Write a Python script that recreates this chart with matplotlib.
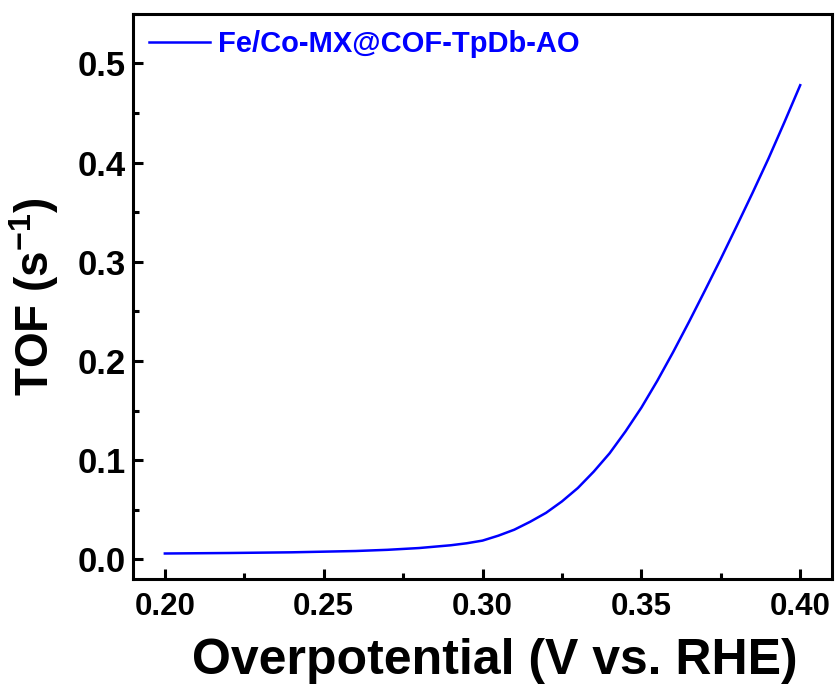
import matplotlib
matplotlib.use("Agg")
import matplotlib.pyplot as plt
from matplotlib.ticker import MultipleLocator

# overpotential (V vs. RHE) and turnover frequency (s^-1)
eta = [0.200, 0.220, 0.240, 0.260, 0.270, 0.280, 0.290, 0.295, 0.300, 0.305,
       0.310, 0.315, 0.320, 0.325, 0.330, 0.335, 0.340, 0.345, 0.350, 0.355,
       0.360, 0.365, 0.370, 0.375, 0.380, 0.385, 0.390, 0.395, 0.400]
tof = [0.0060, 0.0065, 0.0072, 0.0085, 0.0097, 0.0115, 0.0143, 0.0163, 0.0190, 0.0240,
       0.0300, 0.0380, 0.0470, 0.0585, 0.0720, 0.0885, 0.1070, 0.1290, 0.1530, 0.1800,
       0.2090, 0.2395, 0.2710, 0.3030, 0.3360, 0.3695, 0.4040, 0.4405, 0.4780]
label = "Fe/Co-MX@COF-TpDb-AO"

plt.rcParams['font.family'] = ['Liberation Sans', 'DejaVu Sans']
plt.rcParams['font.weight'] = 'bold'
plt.rcParams['mathtext.fontset'] = 'custom'
plt.rcParams['mathtext.rm'] = 'Liberation Sans:bold'
plt.rcParams['mathtext.bf'] = 'Liberation Sans:bold'
plt.rcParams['mathtext.default'] = 'bf'

fig = plt.figure(figsize=(8.37, 6.88), dpi=100)
ax = fig.add_axes([0.159, 0.158, 0.835, 0.822])

ax.plot(eta, tof, color='#0000ff', lw=1.8, label=label)

ax.set_xlim(0.19, 0.41)
ax.set_ylim(-0.02, 0.55)
ax.xaxis.set_major_locator(MultipleLocator(0.05))
ax.xaxis.set_minor_locator(MultipleLocator(0.025))
ax.yaxis.set_major_locator(MultipleLocator(0.1))
ax.yaxis.set_minor_locator(MultipleLocator(0.05))
ax.xaxis.set_major_formatter(plt.FormatStrFormatter('%.2f'))
ax.yaxis.set_major_formatter(plt.FormatStrFormatter('%.1f'))

for s in ax.spines.values():
    s.set_linewidth(2.2)
ax.tick_params(which='major', direction='in', length=7, width=2.2)
ax.tick_params(axis='x', which='major', pad=9, labelsize=22.5)
ax.tick_params(axis='y', which='major', pad=5, labelsize=25)
ax.tick_params(which='minor', direction='in', length=4, width=2.2)
ax.tick_params(which='both', top=False, right=False)

ax.set_xlabel("Overpotential (V vs. RHE)", fontsize=36, fontweight='bold', labelpad=12)
ax.xaxis.label.set_x(0.518)
ax.set_ylabel("TOF (s$^{-1}$)", fontsize=33, fontweight='bold', labelpad=12)

ax.legend(loc='upper left', frameon=False, fontsize=21, labelcolor='#0000ff',
          handlelength=2.1, handletextpad=0.25, borderaxespad=0.15,
          bbox_to_anchor=(0.0, 1.0))

fig.savefig("out.png", dpi=100)
